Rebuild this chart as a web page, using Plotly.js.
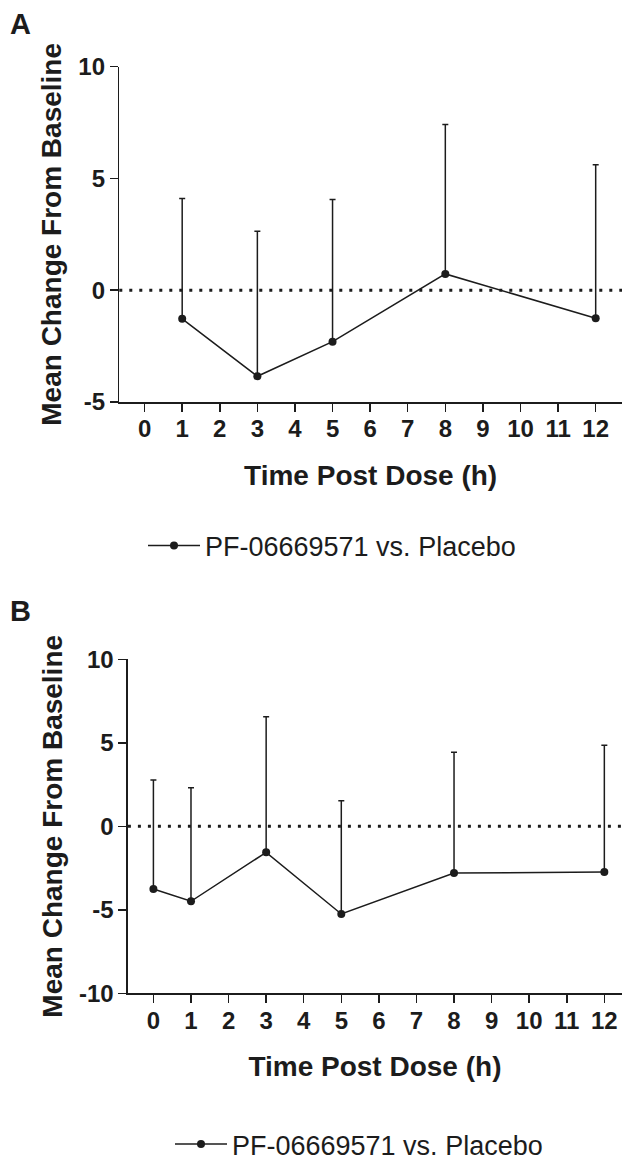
<!DOCTYPE html>
<html>
<head>
<meta charset="utf-8">
<script src="https://cdn.plot.ly/plotly-3.0.1.min.js"></script>
<style>
  html, body { margin: 0; padding: 0; background: #fff; }
  #chart { width: 622px; height: 1169px; }
</style>
</head>
<body>
<div id="chart"></div>
<script>
// ---- Data ----
const seriesName = "PF-06669571 vs. Placebo";

// Panel A
const timeA  = [1, 3, 5, 8, 12];
const meanA  = [-1.28, -3.85, -2.30, 0.73, -1.25];
const upperA = [4.10, 2.64, 4.06, 7.41, 5.61];

// Panel B
const timeB  = [0, 1, 3, 5, 8, 12];
const meanB  = [-3.75, -4.49, -1.56, -5.25, -2.80, -2.74];
const upperB = [2.77, 2.31, 6.56, 1.53, 4.43, 4.85];

const xTickVals = [0,1,2,3,4,5,6,7,8,9,10,11,12];
const xTickText = ["0","1","2","3","4","5","6","7","8","9","10","11","12"];
const yTicksA = [-5, 0, 5, 10];
const yTicksB = [-10, -5, 0, 5, 10];

// ---- Styling ----
const W = 622, H = 1169;
const INK = "#1c1c1c";
const FONT = "Liberation Sans, Arial, Helvetica, sans-serif";
const py = (px) => 1 - px / H;
const pxX = (px) => px / W;

function trace(x, mean, upper, xa, ya, legend) {
  return {
    type: "scatter", mode: "lines+markers",
    x: x, y: mean, xaxis: xa, yaxis: ya, legend: legend,
    name: seriesName,
    line: { color: INK, width: 1.5 },
    marker: { color: INK, size: 8 },
    error_y: {
      type: "data", symmetric: false,
      array: upper.map((u, i) => u - mean[i]),
      arrayminus: mean.map(() => 0),
      color: INK, thickness: 1.5, width: 3
    },
    showlegend: true
  };
}

const data = [
  trace(timeA, meanA, upperA, "x", "y", "legend"),
  trace(timeB, meanB, upperB, "x2", "y2", "legend2")
];

const tickFont = { family: FONT, size: 24, color: INK, weight: "bold" };
const titleFont = { family: FONT, size: 28, color: INK, weight: "bold" };

function xAxis(domain, range, anchor) {
  return {
    domain: domain, range: range, anchor: anchor,
    tickmode: "array", tickvals: xTickVals, ticktext: xTickText,
    ticks: "outside", ticklen: 8, tickwidth: 1.5, tickcolor: INK,
    showline: true, linecolor: INK, linewidth: 1.5,
    showgrid: false, zeroline: false,
    tickfont: tickFont, ticklabelstandoff: -3,
    title: { text: "Time Post Dose (h)", font: titleFont, standoff: 24 },
    fixedrange: true
  };
}
function yAxis(domain, range, ticks, anchor) {
  return {
    domain: domain, range: range, anchor: anchor,
    tickmode: "array", tickvals: ticks, ticktext: ticks.map(String),
    ticks: "outside", ticklen: 8, tickwidth: 1.5, tickcolor: INK,
    showline: true, linecolor: INK, linewidth: 1.5,
    showgrid: false, zeroline: false,
    tickfont: tickFont,
    title: { text: "Mean Change From Baseline", font: titleFont, standoff: 8 },
    fixedrange: true
  };
}

const legendFont = { family: FONT, size: 27, color: INK };

const layout = {
  width: W, height: H,
  margin: { l: 0, r: 0, t: 0, b: 0, autoexpand: false },
  paper_bgcolor: "#ffffff", plot_bgcolor: "#ffffff",
  font: { family: FONT, color: INK },
  xaxis:  xAxis([pxX(119.3), 1], [-0.673, 12.70], "y"),
  yaxis:  yAxis([py(402), py(66.7)], [-5, 10], yTicksA, "x"),
  xaxis2: xAxis([pxX(127.9), 1], [-0.679, 12.47], "y2"),
  yaxis2: yAxis([py(993.3), py(659.3)], [-10, 10], yTicksB, "x2"),
  legend: {
    x: pxX(143), y: py(546), xanchor: "left", yanchor: "middle",
    orientation: "h", bgcolor: "rgba(0,0,0,0)", borderwidth: 0,
    font: legendFont, itemwidth: 52
  },
  legend2: {
    x: pxX(170), y: 0, xanchor: "left", yanchor: "bottom",
    orientation: "h", bgcolor: "rgba(0,0,0,0)", borderwidth: 0,
    font: legendFont, itemwidth: 52
  },
  shapes: [
    { type: "line", xref: "x domain", yref: "y", x0: 0, x1: 1, y0: 0, y1: 0,
      line: { color: INK, width: 3, dash: "3px,7px" }, layer: "below" },
    { type: "line", xref: "x2 domain", yref: "y2", x0: 0, x1: 1, y0: 0, y1: 0,
      line: { color: INK, width: 3, dash: "3px,7px" }, layer: "below" }
  ],
  annotations: [
    { text: "A", xref: "paper", yref: "paper", x: pxX(8), y: py(23.5),
      xanchor: "left", yanchor: "middle", showarrow: false,
      font: { family: FONT, size: 29, color: INK, weight: "bold" } },
    { text: "B", xref: "paper", yref: "paper", x: pxX(8), y: py(611),
      xanchor: "left", yanchor: "middle", showarrow: false,
      font: { family: FONT, size: 29, color: INK, weight: "bold" } }
  ]
};

Plotly.newPlot("chart", data, layout, { displayModeBar: false, staticPlot: true });
</script>
</body>
</html>
